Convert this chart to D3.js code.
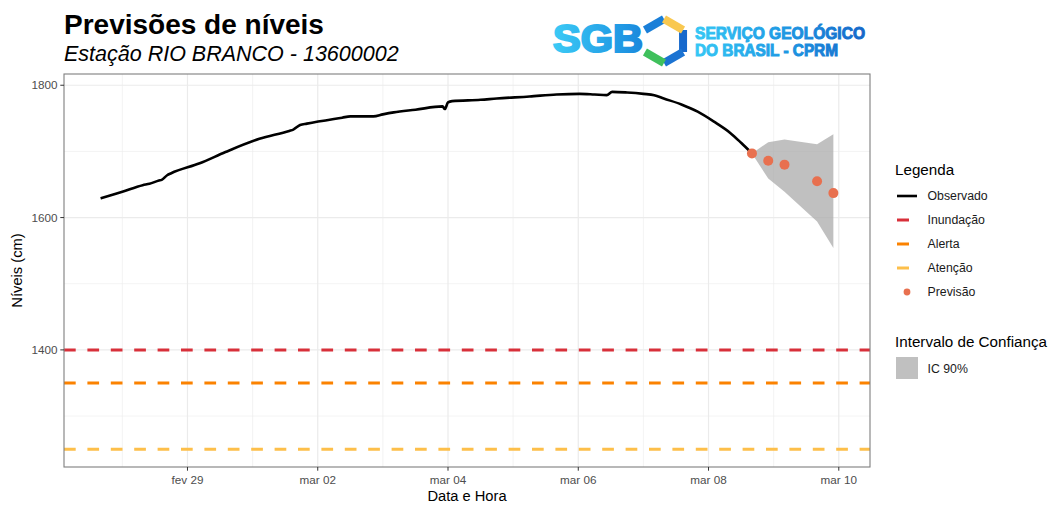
<!DOCTYPE html>
<meta charset="utf-8">
<style>
  body { margin: 0; background: #fff; }
  text { font-family: "Liberation Sans", Arial, sans-serif; }
</style>
<script src="https://d3js.org/d3.v7.min.js"></script>

<svg id="chart" width="1054" height="506"></svg>

<script>
  // Observed levels (cm)
  var obsTime = [
    "2024-02-27 16:00", "2024-02-28 00:00", "2024-02-28 07:30", "2024-02-28 10:00",
    "2024-02-28 13:30", "2024-02-28 14:30", "2024-02-28 16:30", "2024-02-28 18:00",
    "2024-02-29 04:30", "2024-02-29 14:00", "2024-03-01 02:30", "2024-03-01 13:30",
    "2024-03-01 15:00", "2024-03-01 17:30", "2024-03-01 20:00", "2024-03-02 09:00",
    "2024-03-02 12:00", "2024-03-02 20:30", "2024-03-03 00:00", "2024-03-03 04:00",
    "2024-03-03 12:00", "2024-03-03 22:00", "2024-03-03 22:50", "2024-03-04 00:00",
    "2024-03-04 01:30", "2024-03-04 12:00", "2024-03-04 18:00", "2024-03-05 06:00",
    "2024-03-05 16:00", "2024-03-06 00:30", "2024-03-06 06:00", "2024-03-06 10:30",
    "2024-03-06 12:30", "2024-03-06 18:00", "2024-03-07 00:00", "2024-03-07 04:00",
    "2024-03-07 07:30", "2024-03-07 14:00", "2024-03-07 20:00", "2024-03-08 02:00",
    "2024-03-08 08:00", "2024-03-08 12:00", "2024-03-08 16:00"
  ];
  var obsLevel = [
    1629, 1639, 1649, 1651,
    1656, 1657, 1664, 1667,
    1682, 1699, 1719, 1731,
    1733, 1740, 1742, 1751,
    1753, 1753, 1756, 1759,
    1763, 1768, 1764, 1774,
    1776, 1778, 1780, 1783,
    1786, 1787, 1786, 1785,
    1790, 1789, 1787, 1785,
    1780, 1771, 1760, 1745,
    1728, 1713, 1697
  ];

  // Forecast and 90% interval
  var fcTime = ["2024-03-08 16:00", "2024-03-08 22:00", "2024-03-09 04:00", "2024-03-09 16:00", "2024-03-09 22:00"];
  var fcLevel = [1697, 1686, 1680, 1655, 1637];
  var fcLower = [1697, 1659, 1639, 1594, 1554];
  var fcUpper = [1697, 1714, 1718, 1711, 1726];

  // Reference levels
  var refNames = ["Inundação", "Alerta", "Atenção"];
  var refLevels = [1400, 1350, 1250];
  var refColors = ["#d8303a", "#fb8200", "#fdbf4a"];

  // Axis ticks
  var xTicks = ["2024-02-29", "2024-03-02", "2024-03-04", "2024-03-06", "2024-03-08", "2024-03-10"];
  var xTickLabels = ["fev 29", "mar 02", "mar 04", "mar 06", "mar 08", "mar 10"];
  var xMinor = ["2024-02-28", "2024-03-01", "2024-03-03", "2024-03-05", "2024-03-07", "2024-03-09"];
  var yTicks = [1400, 1600, 1800];
  var yMinor = [1300, 1500, 1700];

  var parseT = d3.timeParse("%Y-%m-%d %H:%M");
  var parseD = d3.timeParse("%Y-%m-%d");

  var obs = obsTime.map((t, i) => ({ t: parseT(t), v: obsLevel[i] }));
  var fc = fcTime.map((t, i) => ({ t: parseT(t), v: fcLevel[i], lo: fcLower[i], hi: fcUpper[i] }));

  var svg = d3.select("svg");
  var pL = 64, pR = 870, pT = 74, pB = 467;

  // ggplot-like 5% expansion
  function expand(ext) {
    var r = ext[1] - ext[0];
    return [ext[0] - r * 0.05, +ext[1] + r * 0.05];
  }
  var tExt = d3.extent(obs.map(d => d.t).concat(fc.map(d => d.t)));
  var x = d3.scaleTime()
    .domain(expand([+tExt[0], +tExt[1]]).map(d => new Date(d)))
    .range([pL, pR]);
  var vAll = obsLevel.concat(fcLevel, fcLower, fcUpper, refLevels);
  var y = d3.scaleLinear()
    .domain(expand(d3.extent(vAll)))
    .range([pB, pT]);

  // Gridlines
  var grid = svg.append("g");
  grid.selectAll(".ymin").data(yMinor).enter().append("line")
    .attr("x1", pL).attr("x2", pR)
    .attr("y1", d => y(d)).attr("y2", d => y(d))
    .attr("stroke", "#ebebeb").attr("stroke-width", 0.6);
  grid.selectAll(".xmin").data(xMinor).enter().append("line")
    .attr("x1", d => x(parseD(d))).attr("x2", d => x(parseD(d)))
    .attr("y1", pT).attr("y2", pB)
    .attr("stroke", "#ebebeb").attr("stroke-width", 0.6);
  grid.selectAll(".ymaj").data(yTicks).enter().append("line")
    .attr("x1", pL).attr("x2", pR)
    .attr("y1", d => y(d)).attr("y2", d => y(d))
    .attr("stroke", "#ebebeb").attr("stroke-width", 1.2);
  grid.selectAll(".xmaj").data(xTicks).enter().append("line")
    .attr("x1", d => x(parseD(d))).attr("x2", d => x(parseD(d)))
    .attr("y1", pT).attr("y2", pB)
    .attr("stroke", "#ebebeb").attr("stroke-width", 1.2);

  // Reference lines
  svg.append("g").selectAll("line").data(refLevels).enter().append("line")
    .attr("x1", pL).attr("x2", pR)
    .attr("y1", d => y(d)).attr("y2", d => y(d))
    .attr("stroke", (d, i) => refColors[i])
    .attr("stroke-width", 3)
    .attr("stroke-dasharray", "11.7 11.7");

  // Confidence ribbon
  svg.append("path")
    .datum(fc)
    .attr("d", d3.area().x(d => x(d.t)).y0(d => y(d.lo)).y1(d => y(d.hi)))
    .attr("fill", "#a8a8a8").attr("fill-opacity", 0.72);

  // Observed line
  svg.append("path")
    .datum(obs)
    .attr("d", d3.line().curve(d3.curveMonotoneX).x(d => x(d.t)).y(d => y(d.v)))
    .attr("fill", "none").attr("stroke", "#000").attr("stroke-width", 2.6)
    .attr("stroke-linejoin", "round");

  // Forecast points
  svg.append("g").selectAll("circle").data(fc).enter().append("circle")
    .attr("cx", d => x(d.t)).attr("cy", d => y(d.v)).attr("r", 5)
    .attr("fill", "#e8704f");

  // Panel border
  svg.append("rect")
    .attr("x", pL).attr("y", pT).attr("width", pR - pL).attr("height", pB - pT)
    .attr("fill", "none").attr("stroke", "#7f7f7f").attr("stroke-width", 1.1);

  // Axes
  var xAxis = svg.append("g");
  xAxis.selectAll("line").data(xTicks).enter().append("line")
    .attr("x1", d => x(parseD(d))).attr("x2", d => x(parseD(d)))
    .attr("y1", pB).attr("y2", pB + 3.7)
    .attr("stroke", "#333").attr("stroke-width", 1);
  xAxis.selectAll("text").data(xTicks).enter().append("text")
    .attr("x", d => x(parseD(d))).attr("y", pB + 17)
    .attr("text-anchor", "middle").attr("font-size", 11.7).attr("fill", "#4d4d4d")
    .text((d, i) => xTickLabels[i]);

  var yAxis = svg.append("g");
  yAxis.selectAll("line").data(yTicks).enter().append("line")
    .attr("x1", pL - 3.7).attr("x2", pL)
    .attr("y1", d => y(d)).attr("y2", d => y(d))
    .attr("stroke", "#333").attr("stroke-width", 1);
  yAxis.selectAll("text").data(yTicks).enter().append("text")
    .attr("x", pL - 6.6).attr("y", d => y(d) + 4.2)
    .attr("text-anchor", "end").attr("font-size", 11.7).attr("fill", "#4d4d4d")
    .text(d => d);

  svg.append("text")
    .attr("x", (pL + pR) / 2).attr("y", 500.5)
    .attr("text-anchor", "middle").attr("font-size", 14.7)
    .text("Data e Hora");
  svg.append("text")
    .attr("transform", "translate(21.5," + ((pT + pB) / 2) + ") rotate(-90)")
    .attr("text-anchor", "middle").attr("font-size", 14.7)
    .text("Níveis (cm)");

  // Titles
  svg.append("text").attr("x", 64).attr("y", 34)
    .attr("font-size", 28).attr("font-weight", "bold").text("Previsões de níveis");
  svg.append("text").attr("x", 64).attr("y", 61)
    .attr("font-size", 21.5).attr("font-style", "italic").text("Estação RIO BRANCO - 13600002");

  // Legend
  var lg = svg.append("g");
  lg.append("text").attr("x", 895).attr("y", 175).attr("font-size", 15.2).text("Legenda");
  var keyNames = ["Observado"].concat(refNames, ["Previsão"]);
  var keyY = [196, 220, 244, 268, 292];
  keyNames.forEach(function(name, i) {
    var ky = keyY[i];
    if (i === 0) {
      lg.append("line").attr("x1", 897).attr("x2", 917).attr("y1", ky).attr("y2", ky)
        .attr("stroke", "#000").attr("stroke-width", 2.6);
    } else if (i <= refNames.length) {
      lg.append("line").attr("x1", 897).attr("x2", 909).attr("y1", ky).attr("y2", ky)
        .attr("stroke", refColors[i - 1]).attr("stroke-width", 3);
    } else {
      lg.append("circle").attr("cx", 907).attr("cy", ky).attr("r", 3.4).attr("fill", "#e8704f");
    }
    lg.append("text").attr("x", 927.5).attr("y", ky + 4.3).attr("font-size", 12.3).attr("fill", "#1a1a1a").text(name);
  });
  lg.append("text").attr("x", 895).attr("y", 346.5).attr("font-size", 15.2).text("Intervalo de Confiança");
  lg.append("rect").attr("x", 896).attr("y", 357).attr("width", 22).attr("height", 22)
    .attr("fill", "#a8a8a8").attr("fill-opacity", 0.72);
  lg.append("text").attr("x", 927.5).attr("y", 372.5).attr("font-size", 12.3).attr("fill", "#1a1a1a").text("IC 90%");

  // Logo
  var defs = svg.append("defs");
  var g1 = defs.append("linearGradient").attr("id", "sgbGrad")
    .attr("gradientUnits", "userSpaceOnUse").attr("x1", 552).attr("x2", 690).attr("y1", 0).attr("y2", 0);
  g1.append("stop").attr("offset", 0).attr("stop-color", "#3ccbf6");
  g1.append("stop").attr("offset", 0.55).attr("stop-color", "#1e94e2");
  g1.append("stop").attr("offset", 1).attr("stop-color", "#1561c6");
  var g2 = defs.append("linearGradient").attr("id", "txtGrad")
    .attr("gradientUnits", "userSpaceOnUse").attr("x1", 694).attr("x2", 868).attr("y1", 0).attr("y2", 0);
  g2.append("stop").attr("offset", 0).attr("stop-color", "#36c8f5");
  g2.append("stop").attr("offset", 0.5).attr("stop-color", "#1f9ae4");
  g2.append("stop").attr("offset", 1).attr("stop-color", "#1565c8");

  var logo = svg.append("g");
  var cx = 664, cy = 41, r = 22;
  var hv = d3.range(6).map(k => {
    var a = (-90 + 60 * k) * Math.PI / 180;
    return [cx + r * Math.cos(a), cy + r * Math.sin(a)];
  });
  function seg(a, b, col) {
    logo.append("line").attr("x1", hv[a][0]).attr("y1", hv[a][1]).attr("x2", hv[b][0]).attr("y2", hv[b][1])
      .attr("stroke", col).attr("stroke-width", 8).attr("stroke-linecap", "butt");
  }
  seg(5, 0, "#1a7fd8");
  seg(1, 2, "#1668cc");
  seg(2, 3, "#1b73d2");
  seg(4, 3, "#3fc05c");
  seg(0, 1, "#f9c850");
  logo.append("text").attr("x", 553).attr("y", 52)
    .attr("font-family", "'DejaVu Sans', sans-serif").attr("font-weight", "bold")
    .attr("font-size", 39).attr("textLength", 90).attr("lengthAdjust", "spacingAndGlyphs")
    .attr("fill", "url(#sgbGrad)").attr("stroke", "url(#sgbGrad)").attr("stroke-width", 2.2)
    .text("SGB");
  logo.append("text").attr("x", 695).attr("y", 39)
    .attr("font-family", "'DejaVu Sans', sans-serif").attr("font-weight", "bold")
    .attr("font-size", 16.5).attr("textLength", 170).attr("lengthAdjust", "spacingAndGlyphs")
    .attr("fill", "url(#txtGrad)").attr("stroke", "url(#txtGrad)").attr("stroke-width", 1)
    .text("SERVIÇO GEOLÓGICO");
  logo.append("text").attr("x", 695).attr("y", 55.5)
    .attr("font-family", "'DejaVu Sans', sans-serif").attr("font-weight", "bold")
    .attr("font-size", 16.5).attr("textLength", 143).attr("lengthAdjust", "spacingAndGlyphs")
    .attr("fill", "url(#txtGrad)").attr("stroke", "url(#txtGrad)").attr("stroke-width", 1)
    .text("DO BRASIL - CPRM");
</script>
